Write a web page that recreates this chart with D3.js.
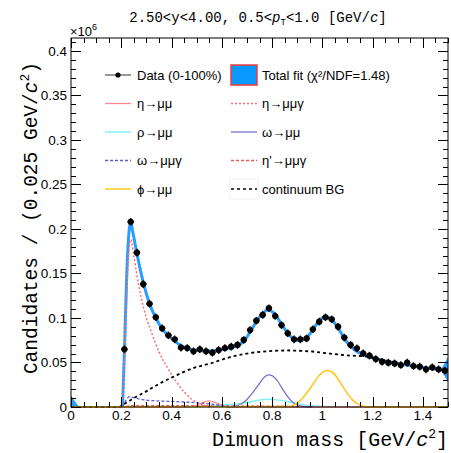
<!DOCTYPE html>
<html>
<head>
<meta charset="utf-8">
<script src="https://cdn.jsdelivr.net/npm/d3@7"></script>
<style>
  html, body { margin: 0; padding: 0; background: #fff; }
  svg { display: block; }
  .sans { font-family: 'Liberation Sans', Arial, Helvetica, sans-serif; }
  .mono { font-family: 'Liberation Mono', 'Courier New', monospace; }
</style>
</head>
<body>
<svg id="chart" width="451" height="453"></svg>
<script>

// data (candidates in units of 10^6, mass in GeV/c^2)

const massBins = [
  0.2125, 0.2375, 0.2625, 0.2875, 0.3125, 0.3375, 0.3625, 0.3875, 0.4125, 0.4375,
  0.4625, 0.4875, 0.5125, 0.5375, 0.5625, 0.5875, 0.6125, 0.6375, 0.6625, 0.6875,
  0.7125, 0.7375, 0.7625, 0.7875, 0.8125, 0.8375, 0.8625, 0.8875, 0.9125, 0.9375,
  0.9625, 0.9875, 1.0125, 1.0375, 1.0625, 1.0875, 1.1125, 1.1375, 1.1625, 1.1875,
  1.2125, 1.2375, 1.2625, 1.2875, 1.3125, 1.3375, 1.3625, 1.3875, 1.4125, 1.4375,
  1.4625, 1.4875
]
const candidates = [
  0.0648, 0.208, 0.1734, 0.138, 0.116, 0.1008, 0.0884, 0.0805, 0.076, 0.0667,
  0.0663, 0.0626, 0.0648, 0.0626, 0.061, 0.064, 0.0663, 0.0678, 0.0697, 0.0753,
  0.0865, 0.097, 0.1034, 0.111, 0.1022, 0.092, 0.0828, 0.076, 0.076, 0.077,
  0.0873, 0.0959, 0.1008, 0.0985, 0.0902, 0.078, 0.0697, 0.066, 0.0603, 0.0577,
  0.0539, 0.0509, 0.0498, 0.049, 0.0472, 0.0498, 0.046, 0.0453, 0.0423, 0.0446,
  0.0423, 0.0408
]

const fitMass = [
  0.205, 0.2125, 0.222, 0.232, 0.2375, 0.245, 0.2625, 0.2875, 0.3125, 0.3375,
  0.3625, 0.3875, 0.4125, 0.4375, 0.4625, 0.4875, 0.5125, 0.5375, 0.5625, 0.5875,
  0.6125, 0.6375, 0.6625, 0.6875, 0.7125, 0.7375, 0.7625, 0.7825, 0.8125, 0.8375,
  0.8625, 0.8875, 0.9125, 0.9375, 0.9625, 0.9875, 1.0125, 1.0375, 1.0625, 1.0875,
  1.1125, 1.1375, 1.1625, 1.1875, 1.2125, 1.2375, 1.2625, 1.2875, 1.3125, 1.3375,
  1.3625, 1.3875, 1.4125, 1.4375, 1.4625, 1.4875, 1.5
]
const fitVal = [
  0, 0.062, 0.15, 0.2, 0.208, 0.198, 0.172, 0.14, 0.116, 0.1,
  0.088, 0.08, 0.074, 0.069, 0.066, 0.064, 0.0635, 0.063, 0.063, 0.0638,
  0.065, 0.0665, 0.069, 0.074, 0.084, 0.096, 0.105, 0.109, 0.104, 0.093,
  0.083, 0.076, 0.0745, 0.078, 0.087, 0.097, 0.1015, 0.098, 0.089, 0.077,
  0.068, 0.0625, 0.059, 0.0565, 0.0545, 0.0525, 0.051, 0.0495, 0.048, 0.047,
  0.046, 0.045, 0.044, 0.043, 0.042, 0.041, 0.0405
]
// fit band artefacts at both ends of the range
const fitEdgeLow = [[0, 0.012], [0, 0], [0.03, 0]]
const fitEdgeHigh = [[1.474, 0.042], [1.5, 0.055], [1.5, 0.029]]

const etaMass = [0, 0.45, 0.49, 0.52, 0.55, 0.58, 0.61, 0.65, 1.5]
const etaVal = [0, 0, 0.001, 0.0045, 0.0068, 0.0045, 0.001, 0, 0]

const etaDalitzMass = [0.2, 0.21, 0.2175, 0.225, 0.233, 0.238, 0.25, 0.26, 0.28, 0.3, 0.32, 0.35, 0.38, 0.42, 0.45, 0.48, 0.51, 0.54, 0.55]
const etaDalitzVal = [0, 0.03, 0.09, 0.15, 0.183, 0.188, 0.17, 0.152, 0.122, 0.1, 0.084, 0.062, 0.046, 0.028, 0.017, 0.009, 0.004, 0.001, 0]

const rhoMass = [0.45, 0.5, 0.55, 0.6, 0.65, 0.7, 0.75, 0.78, 0.82, 0.86, 0.9, 0.95, 1.0, 1.1, 1.2, 1.5]
const rhoVal = [0, 0.0005, 0.0012, 0.002, 0.003, 0.005, 0.0078, 0.0086, 0.008, 0.0062, 0.0038, 0.0016, 0.0006, 0.0002, 0, 0]

const omegaMass = [0.62, 0.65, 0.68, 0.7, 0.72, 0.74, 0.76, 0.775, 0.787, 0.8, 0.82, 0.84, 0.86, 0.88, 0.9, 0.93, 0.96]
const omegaVal = [0, 0.0008, 0.004, 0.0085, 0.015, 0.0225, 0.0305, 0.0348, 0.036, 0.0352, 0.03, 0.021, 0.0125, 0.006, 0.0025, 0.0005, 0]

const omegaDalitzMass = [0.205, 0.22, 0.232, 0.25, 0.29, 0.35, 0.42, 0.5, 0.556, 0.6, 0.64, 0.66]
const omegaDalitzVal = [0, 0.008, 0.0116, 0.0105, 0.008, 0.0068, 0.006, 0.0048, 0.0034, 0.002, 0.0007, 0]

const etaPrimeMass = [0.2, 0.25, 0.4, 0.6, 0.8, 0.9, 0.96]
const etaPrimeVal = [0, 0.0015, 0.0015, 0.0013, 0.001, 0.0005, 0]

const phiMass = [0, 0.86, 0.88, 0.9, 0.92, 0.94, 0.96, 0.98, 1.0, 1.018, 1.04, 1.06, 1.08, 1.1, 1.12, 1.14, 1.16, 1.19, 1.5]
const phiVal = [0, 0.0005, 0.0015, 0.0045, 0.0095, 0.0165, 0.0245, 0.033, 0.039, 0.041, 0.039, 0.0325, 0.0235, 0.015, 0.008, 0.0035, 0.0012, 0, 0]

const bgMass = [0, 0.19, 0.21, 0.25, 0.29, 0.35, 0.4, 0.49, 0.556, 0.62, 0.688, 0.754, 0.86, 0.95, 1.03, 1.1, 1.18, 1.25, 1.3, 1.4, 1.5]
const bgVal = [0, 0, 0.003, 0.01, 0.016, 0.026, 0.033, 0.044, 0.049, 0.055, 0.0595, 0.062, 0.0635, 0.0625, 0.06, 0.058, 0.0565, 0.052, 0.049, 0.0445, 0.0405]

const xTicks = [0, 0.2, 0.4, 0.6, 0.8, 1, 1.2, 1.4]
const xTickLabels = ['0', '0.2', '0.4', '0.6', '0.8', '1', '1.2', '1.4']
const yTicks = [0, 0.05, 0.1, 0.15, 0.2, 0.25, 0.3, 0.35, 0.4]
const yTickLabels = ['0', '0.05', '0.1', '0.15', '0.2', '0.25', '0.3', '0.35', '0.4']

// layout

const FRAME = { left: 71, right: 448, top: 38, bottom: 407 }
const BIN_HALF = 0.0125

const x = d3.scaleLinear().domain([0, 1.5]).range([FRAME.left, FRAME.right])
const y = d3.scaleLinear().domain([0, 0.4145]).range([FRAME.bottom, FRAME.top])

const svg = d3.select('#chart')

svg.append('clipPath').attr('id', 'frame-clip')
  .append('rect')
  .attr('x', FRAME.left).attr('y', FRAME.top - 2)
  .attr('width', FRAME.right - FRAME.left).attr('height', FRAME.bottom - FRAME.top + 3)

// curve styles
const styles = {
  fit:        { stroke: '#2a9dff', width: 3, dash: null },
  eta:        { stroke: '#ff8c8c', width: 1.3, dash: null },
  etaDalitz:  { stroke: '#ff6e6e', width: 1.5, dash: '2,2' },
  rho:        { stroke: '#80f2f2', width: 1.5, dash: null },
  omega:      { stroke: '#7373c8', width: 1.3, dash: null },
  omegaDalitz:{ stroke: '#5a5ad8', width: 1.3, dash: '3,2' },
  etaPrime:   { stroke: '#e85a5a', width: 1.3, dash: '3,2' },
  phi:        { stroke: '#ffc81e', width: 1.6, dash: null },
  bg:         { stroke: '#000', width: 1.8, dash: '3,3' }
}

const line = d3.line()
  .x((d) => x(d[0]))
  .y((d) => y(d[1]))
  .curve(d3.curveMonotoneX)

let plot = svg.append('g').attr('clip-path', 'url(#frame-clip)')

function drawCurve(mass, val, st) {
  plot.append('path')
    .attr('d', line(d3.zip(mass, val)))
    .attr('fill', 'none')
    .attr('stroke', st.stroke)
    .attr('stroke-width', st.width)
    .attr('stroke-dasharray', st.dash)
    .attr('stroke-linejoin', 'round')
}

// total fit
drawCurve(fitMass, fitVal, styles.fit)
;[fitEdgeLow, fitEdgeHigh].forEach((pts) => {
  plot.append('path')
    .attr('d', d3.line().x((d) => x(d[0])).y((d) => y(d[1]))(pts) + 'Z')
    .attr('fill', styles.fit.stroke)
    .attr('stroke', styles.fit.stroke)
    .attr('stroke-width', 1)
})

// components
drawCurve(rhoMass, rhoVal, styles.rho)
drawCurve(etaMass, etaVal, styles.eta)
drawCurve(etaPrimeMass, etaPrimeVal, styles.etaPrime)
drawCurve(omegaDalitzMass, omegaDalitzVal, styles.omegaDalitz)
drawCurve(omegaMass, omegaVal, styles.omega)
drawCurve(etaDalitzMass, etaDalitzVal, styles.etaDalitz)
drawCurve(bgMass, bgVal, styles.bg)
drawCurve(phiMass, phiVal, styles.phi)

// data points with bin-width error bars
let pts = svg.append('g')
massBins.forEach((m, i) => {
  let cx = x(m), cy = y(candidates[i])
  pts.append('line')
    .attr('x1', x(m - BIN_HALF)).attr('x2', x(m + BIN_HALF))
    .attr('y1', cy).attr('y2', cy)
    .attr('stroke', '#000').attr('stroke-width', 1.8)
  pts.append('line')
    .attr('x1', cx).attr('x2', cx)
    .attr('y1', cy - 3.8).attr('y2', cy + 3.8)
    .attr('stroke', '#000').attr('stroke-width', 1.4)
  pts.append('circle')
    .attr('cx', cx).attr('cy', cy).attr('r', 3.1)
    .attr('fill', '#000')
})

// frame and ticks
let axes = svg.append('g').attr('stroke', '#000').attr('stroke-width', 1)
axes.append('rect')
  .attr('x', FRAME.left).attr('y', FRAME.top)
  .attr('width', FRAME.right - FRAME.left).attr('height', FRAME.bottom - FRAME.top)
  .attr('fill', 'none')

d3.range(0, 31).forEach((k) => {
  let v = k * 0.05
  let major = k % 4 === 0
  let len = major ? 10 : 5
  let px = Math.round(x(v)) + 0.5
  if(v > 1.5) return
  axes.append('line').attr('x1', px).attr('x2', px)
    .attr('y1', FRAME.bottom).attr('y2', FRAME.bottom - len)
  axes.append('line').attr('x1', px).attr('x2', px)
    .attr('y1', FRAME.top).attr('y2', FRAME.top + len)
})

d3.range(0, 42).forEach((k) => {
  let v = k * 0.01
  let major = k % 5 === 0
  let len = major ? 10 : 5
  let py = Math.round(y(v)) + 0.5
  axes.append('line').attr('x1', FRAME.left).attr('x2', FRAME.left + len)
    .attr('y1', py).attr('y2', py)
  axes.append('line').attr('x1', FRAME.right).attr('x2', FRAME.right - len)
    .attr('y1', py).attr('y2', py)
})

// tick labels
let labels = svg.append('g').attr('class', 'sans').attr('font-size', 13.5).attr('fill', '#000')
xTicks.forEach((v, i) => {
  labels.append('text')
    .attr('x', x(v)).attr('y', 420)
    .attr('text-anchor', 'middle')
    .text(xTickLabels[i])
})
yTicks.forEach((v, i) => {
  labels.append('text')
    .attr('x', 67).attr('y', y(v) + 4.8)
    .attr('text-anchor', 'end')
    .text(yTickLabels[i])
})

// exponent
let expo = svg.append('text').attr('class', 'sans').attr('font-size', 13).attr('x', 70).attr('y', 36)
expo.append('tspan').text('×10')
expo.append('tspan').attr('font-size', 9).attr('dy', -6).text('6')

// axis titles
let xt = svg.append('text').attr('class', 'mono').attr('font-size', 20)
  .attr('x', 448).attr('y', 446).attr('text-anchor', 'end')
xt.append('tspan').text('Dimuon mass [GeV/')
xt.append('tspan').attr('font-style', 'italic').text('c')
xt.append('tspan').attr('font-size', 13).attr('dy', -8).text('2')
xt.append('tspan').attr('dy', 8).text(']')

let yt = svg.append('text').attr('class', 'mono').attr('font-size', 19.5)
  .attr('transform', 'translate(37,62) rotate(-90)').attr('text-anchor', 'end')
yt.append('tspan').text('Candidates / (0.025 GeV/')
yt.append('tspan').attr('font-style', 'italic').text('c')
yt.append('tspan').attr('font-size', 13).attr('dy', -8).text('2')
yt.append('tspan').attr('dy', 8).text(')')

// title
let title = svg.append('text').attr('class', 'mono').attr('font-size', 14)
  .attr('x', 258).attr('y', 22).attr('text-anchor', 'middle')
title.append('tspan').text('2.50<y<4.00, 0.5<')
title.append('tspan').attr('font-style', 'italic').text('p')
title.append('tspan').attr('font-size', 9).attr('dy', 3).text('T')
title.append('tspan').attr('dy', -3).text('<1.0 [GeV/')
title.append('tspan').attr('font-style', 'italic').text('c')
title.append('tspan').text(']')

// legend
const legendRows = [75, 103.5, 132, 160.5, 189]
const legendCols = [{ x0: 105, x1: 131, tx: 137 }, { x0: 231, x1: 257, tx: 262 }]
const legendEntries = [
  { col: 0, row: 0, kind: 'data', label: 'Data (0-100%)' },
  { col: 1, row: 0, kind: 'box', label: 'Total fit (χ²/NDF=1.48)' },
  { col: 0, row: 1, kind: 'eta', label: 'η→μμ' },
  { col: 1, row: 1, kind: 'etaDalitz', label: 'η→μμγ' },
  { col: 0, row: 2, kind: 'rho', label: 'ρ→μμ' },
  { col: 1, row: 2, kind: 'omega', label: 'ω→μμ' },
  { col: 0, row: 3, kind: 'omegaDalitz', label: 'ω→μμγ' },
  { col: 1, row: 3, kind: 'etaPrime', label: 'η\'→μμγ' },
  { col: 0, row: 4, kind: 'phi', label: 'ϕ→μμ' },
  { col: 1, row: 4, kind: 'bg', label: 'continuum BG' }
]

let legend = svg.append('g')
legendEntries.forEach((e) => {
  let c = legendCols[e.col], yy = legendRows[e.row]
  if(e.kind === 'data') {
    legend.append('line').attr('x1', c.x0).attr('x2', c.x1).attr('y1', yy).attr('y2', yy)
      .attr('stroke', '#777').attr('stroke-width', 1.5)
    legend.append('circle').attr('cx', (c.x0 + c.x1) / 2).attr('cy', yy).attr('r', 2.6).attr('fill', '#000')
  } else if(e.kind === 'box') {
    legend.append('rect').attr('x', c.x0).attr('y', yy - 10).attr('width', c.x1 - c.x0).attr('height', 20)
      .attr('fill', '#0a99ff').attr('stroke', '#f23a3a').attr('stroke-width', 1.5)
  } else {
    let st = styles[e.kind]
    if(e.kind === 'bg') {
      legend.append('rect').attr('x', c.x0 - 1).attr('y', yy - 10).attr('width', c.x1 - c.x0 + 2).attr('height', 20)
        .attr('fill', 'none').attr('stroke', '#eee').attr('stroke-width', 1)
    }
    legend.append('line').attr('x1', c.x0).attr('x2', c.x1).attr('y1', yy).attr('y2', yy)
      .attr('stroke', st.stroke).attr('stroke-width', Math.min(st.width, 1.5))
      .attr('stroke-dasharray', st.dash)
  }
  legend.append('text').attr('class', 'sans').attr('font-size', 13)
    .attr('x', c.tx).attr('y', yy + 4.6)
    .text(e.label)
})

</script>
</body>
</html>
